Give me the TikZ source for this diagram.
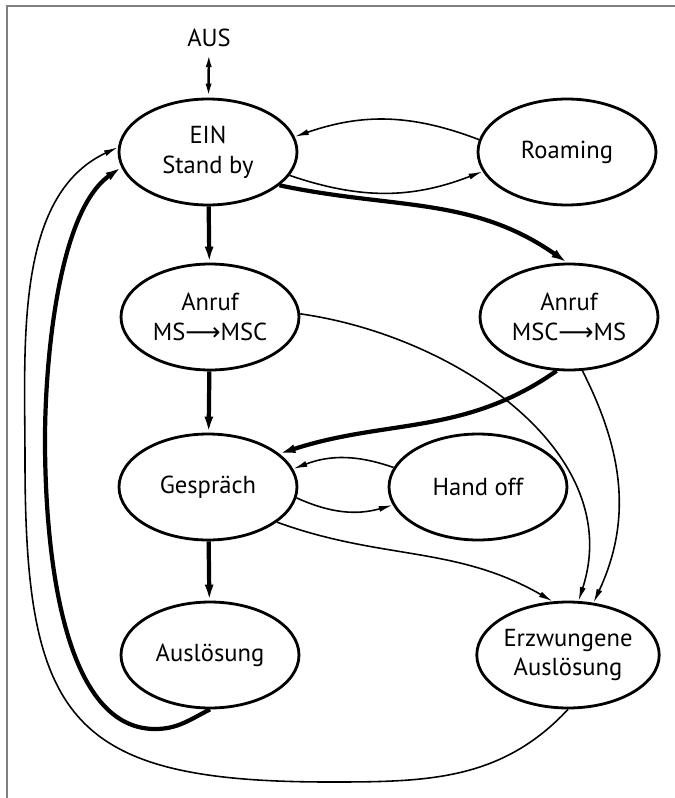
\documentclass[tikz,border=0pt]{standalone}
\usepackage{fontspec}
\setmainfont{PT Sans}
\newfontfamily\symfont{DejaVu Sans}
\usetikzlibrary{shapes.geometric, arrows.meta}

\newcommand{\dirarrow}{{\symfont ⟶}}

\begin{document}
\begin{tikzpicture}[x=0.02cm, y=-0.02cm, >={Latex[length=2.8mm,width=1.2mm]},
    state/.style={ellipse, draw, line width=1.6pt, minimum width=3.56cm, minimum height=2.12cm, inner sep=0pt, align=center, font=\fontsize{14}{17}\selectfont},
    thin line/.style={line width=0.9pt, ->},
    heavy line/.style={line width=2.4pt, -{Latex[length=3.2mm,width=1.8mm]}}]
    \useasboundingbox (0,0) rectangle (675,798);
    \draw[gray, line width=0.7pt] (7,798) -- (7,6) -- (675,6);

    \node[font=\fontsize{14}{17}\selectfont] (aus) at (209,38) {AUS};
    \node[state] (ein) at (208,152) {EIN\\Stand by};
    \node[state] (roam) at (567,152) {Roaming};
    \node[state] (ms) at (210,317) {Anruf\\MS\dirarrow MSC};
    \node[state] (msc) at (569,317) {Anruf\\MSC\dirarrow MS};
    \node[state] (gesp) at (208,487) {Gespräch};
    \node[state] (hand) at (478,487) {Hand off};
    \node[state] (ausl) at (210,655) {Auslösung};
    \node[state] (erz) at (568,655) {Erzwungene\\Auslösung};

    % helper points for the two long returns
    \coordinate (lowa) at (330,782);
    \coordinate (lefta) at (25,460);
    \coordinate (lowb) at (155,729);
    \coordinate (leftb) at (45,440);

    \path[thin line]
        (ein) edge[<->, line width=1.4pt] (aus)
        (roam.172) edge[bend right=20] (ein.10)
        (ein.-16) edge[bend right=20] (roam.193)
        (hand.167) edge[bend right=20] (gesp.12)
        (gesp.-7) edge[bend right=20] (hand.192)
        (ms.2) edge[out=-8, in=72] (erz.79)
        (msc.-76) edge[out=-63, in=65] (erz.64)
        (gesp.-27) edge[out=-20, in=150] (erz.106)
    ;

    \path[heavy line]
        (ein) edge (ms)
        (ms) edge (gesp)
        (gesp) edge (ausl)
        (ein.-25) edge[out=-12, in=145] (msc.92)
        (msc.257) edge[out=215, in=18] (gesp.25)
    ;

    \draw[thin line] (erz.south) to[out=227, in=0] (lowa)
        to[out=180, in=-90, looseness=1.5] (lefta)
        to[out=90, in=205, looseness=0.9] (ein.177);
    \draw[heavy line] (ausl.south) to[out=207, in=0] (lowb)
        to[out=180, in=-90, looseness=0.8] (leftb)
        to[out=90, in=215, looseness=0.7] (ein.190);
\end{tikzpicture}
\end{document}
